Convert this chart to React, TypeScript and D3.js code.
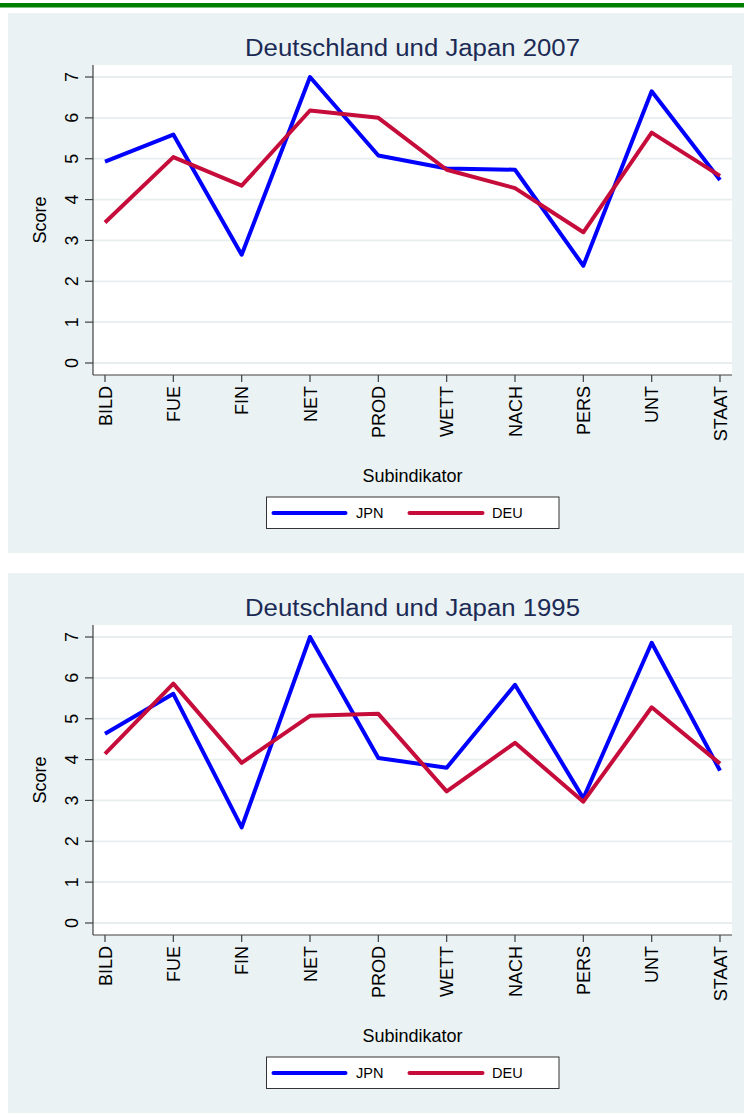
import React from "react";
import * as d3 from "d3";

const categories = ["BILD", "FUE", "FIN", "NET", "PROD", "WETT", "NACH", "PERS", "UNT", "STAAT"];
const yTicks = [0, 1, 2, 3, 4, 5, 6, 7];

const jpn2007 = [4.93, 5.59, 2.65, 7.0, 5.08, 4.76, 4.73, 2.38, 6.65, 4.48];
const deu2007 = [3.44, 5.04, 4.34, 6.18, 6.0, 4.73, 4.28, 3.2, 5.64, 4.58];
const jpn1995 = [4.63, 5.61, 2.34, 7.0, 4.04, 3.8, 5.83, 3.05, 6.86, 3.73];
const deu1995 = [4.14, 5.86, 3.92, 5.07, 5.12, 3.22, 4.41, 2.97, 5.28, 3.9];

const JPN_COLOR = "#0000ff";
const DEU_COLOR = "#c60c3a";
const BG = "#eaf2f3";
const FONT = "'Liberation Sans', Arial, sans-serif";

type PanelProps = {
  top: number;
  title: string;
  jpn: number[];
  deu: number[];
};

const Panel: React.FC<PanelProps> = ({ top, title, jpn, deu }) => {
  // plot region inside the panel
  const left = 93;
  const right = 732;
  const pTop = top + 52;
  const pBottom = top + 362;

  const x = d3.scalePoint<string>().domain(categories).range([left + 12, right - 12]);
  const y = d3.scaleLinear().domain([0, 7]).range([pBottom - 12, pTop + 12]);

  const line = d3
    .line<number>()
    .x((d, i) => x(categories[i]) as number)
    .y((d) => y(d));

  const cx = (left + right) / 2;
  const legTop = top + 484;

  return (
    <g>
      <rect x={8} y={top} width={736} height={540} fill={BG} />
      <text x={cx} y={top + 43} textAnchor="middle" fontSize={23} fill="#1c2b55" textLength={335} lengthAdjust="spacingAndGlyphs">
        {title}
      </text>
      <rect x={left} y={pTop} width={right - left} height={pBottom - pTop} fill="#fff" />
      {yTicks.map((t) => (
        <line key={"g" + t} x1={left} x2={right} y1={y(t)} y2={y(t)} stroke="#e6eef0" strokeWidth={1.8} />
      ))}
      {/* axes */}
      <line x1={left} x2={left} y1={pTop} y2={pBottom} stroke="#404040" strokeWidth={1.2} />
      <line x1={left} x2={right} y1={pBottom} y2={pBottom} stroke="#404040" strokeWidth={1.2} />
      {yTicks.map((t) => (
        <g key={"y" + t}>
          <line x1={left - 8} x2={left} y1={y(t)} y2={y(t)} stroke="#404040" strokeWidth={1.2} />
          <text transform={`translate(78,${y(t)}) rotate(-90)`} textAnchor="middle" fontSize={18} fill="#000">
            {t}
          </text>
        </g>
      ))}
      {categories.map((c) => (
        <g key={c}>
          <line x1={x(c)} x2={x(c)} y1={pBottom} y2={pBottom + 7} stroke="#404040" strokeWidth={1.2} />
          <text transform={`translate(${(x(c) as number) + 6.5},${pBottom + 11}) rotate(-90)`} textAnchor="end" fontSize={18} fill="#000">
            {c}
          </text>
        </g>
      ))}
      <text transform={`translate(46,${(pTop + pBottom) / 2}) rotate(-90)`} textAnchor="middle" fontSize={18} fill="#000">
        Score
      </text>
      <text x={cx} y={top + 469} textAnchor="middle" fontSize={18} fill="#000">
        Subindikator
      </text>
      {/* series */}
      <path d={line(jpn) ?? ""} fill="none" stroke={JPN_COLOR} strokeWidth={4} strokeLinejoin="round" />
      <path d={line(deu) ?? ""} fill="none" stroke={DEU_COLOR} strokeWidth={4} strokeLinejoin="round" />
      {/* legend */}
      <rect x={266.5} y={legTop} width={292.5} height={31.5} fill="#fff" stroke="#333" strokeWidth={1} />
      <line x1={273.5} x2={345.5} y1={legTop + 16} y2={legTop + 16} stroke={JPN_COLOR} strokeWidth={4} strokeLinecap="round" />
      <text x={356} y={legTop + 21} fontSize={14.5} fill="#000">JPN</text>
      <line x1={409.5} x2={482.5} y1={legTop + 16} y2={legTop + 16} stroke={DEU_COLOR} strokeWidth={4} strokeLinecap="round" />
      <text x={492} y={legTop + 21} fontSize={14.5} fill="#000">DEU</text>
    </g>
  );
};

export default function App() {
  return (
    <svg
      width={744}
      height={1117}
      style={{ position: "absolute", left: 0, top: 0, fontFamily: FONT }}
    >
      <rect x={0} y={0} width={744} height={1117} fill="#fff" />
      <rect x={0} y={3} width={744} height={4.5} fill="#008000" />
      <Panel top={13} title="Deutschland und Japan 2007" jpn={jpn2007} deu={deu2007} />
      <Panel top={573} title="Deutschland und Japan 1995" jpn={jpn1995} deu={deu1995} />
    </svg>
  );
}
